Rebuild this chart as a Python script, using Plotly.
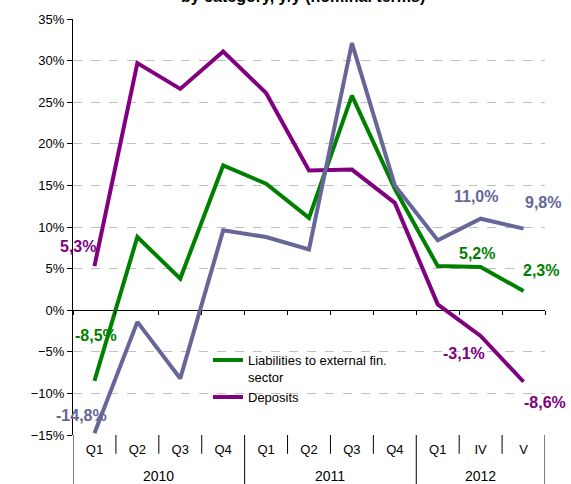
import plotly.graph_objects as go

years = ['2010'] * 4 + ['2011'] * 4 + ['2012'] * 3
periods = ['Q1', 'Q2', 'Q3', 'Q4', 'Q1', 'Q2', 'Q3', 'Q4', 'Q1', 'IV', 'V']
year_labels = ['2010', '2011', '2012']
cats = [y + ' ' + p for y, p in zip(years, periods)]

liabilities = [-8.5, 8.8, 3.8, 17.4, 15.2, 11.1, 25.8, 14.6, 5.3, 5.2, 2.3]
deposits = [5.3, 29.7, 26.6, 31.1, 26.1, 16.8, 16.9, 12.9, 0.7, -3.1, -8.6]
other = [-14.8, -1.4, -8.2, 9.6, 8.8, 7.3, 32.1, 15.0, 8.4, 11.0, 9.8]

GREEN = '#008000'
PURPLE = '#800080'
BLUE = '#666699'
FONT = 'Arial, Liberation Sans, sans-serif'

fig = go.Figure()
fig.add_trace(go.Scatter(x=cats, y=liabilities, mode='lines',
                         name='Liabilities to external fin.<br>sector',
                         line=dict(color=GREEN, width=4)))
fig.add_trace(go.Scatter(x=cats, y=deposits, mode='lines',
                         name='Deposits', line=dict(color=PURPLE, width=4)))
fig.add_trace(go.Scatter(x=cats, y=other, mode='lines',
                         showlegend=False, line=dict(color=BLUE, width=4)))
# helper trace binding the axis that crosses at 0%
fig.add_trace(go.Scatter(x=cats, y=other, xaxis='x2', mode='lines',
                         opacity=0, showlegend=False, hoverinfo='skip'))

labels = [
    (-0.38, 7.6, '5,3%', PURPLE),
    (0.04, -3.0, '-8,5%', GREEN),
    (-0.31, -12.6, '-14,8%', BLUE),
    (8.89, 13.7, '11,0%', BLUE),
    (10.45, 12.9, '9,8%', BLUE),
    (8.92, 6.85, '5,2%', GREEN),
    (10.4, 4.8, '2,3%', GREEN),
    (8.61, -5.2, '-3,1%', PURPLE),
    (10.5, -11.05, '-8,6%', PURPLE),
]
for lx, ly, txt, col in labels:
    fig.add_annotation(x=lx, y=ly, xref='x', yref='y', text='<b>' + txt + '</b>',
                       showarrow=False, font=dict(family=FONT, size=16, color=col))

# partially visible chart title at the very top
fig.add_annotation(x=0.487, y=1.029, xref='paper', yref='paper', xanchor='center',
                   yanchor='bottom', showarrow=False,
                   text='<b>by category, y/y (nominal terms)</b>',
                   font=dict(family=FONT, size=16, color='black'))

# year group labels
group_starts = [i for i in range(len(years)) if i == 0 or years[i] != years[i - 1]]
group_ends = group_starts[1:] + [len(years)]
for yl, s, e in zip(year_labels, group_starts, group_ends):
    fig.add_annotation(x=(s + e - 1) / 2, y=-0.098, xref='x', yref='paper',
                       text=yl, showarrow=False, yanchor='middle',
                       font=dict(family=FONT, size=14, color='black'))

# category separators below the plot
for i in range(len(cats) + 1):
    full = i in group_starts or i == len(cats)
    fig.add_shape(type='line', xref='x', yref='paper', x0=i - 0.5, x1=i - 0.5,
                  y0=0, y1=-0.125 if full else -0.045,
                  line=dict(color='black', width=1))

fig.update_layout(
    width=571, height=484,
    margin=dict(l=73, r=26, t=19, b=49, autoexpand=False),
    paper_bgcolor='white', plot_bgcolor='white',
    font=dict(family=FONT, size=13, color='black'),
    showlegend=True,
    legend=dict(x=0.286, y=0.216, xanchor='left', yanchor='top',
                bgcolor='rgba(0,0,0,0)', font=dict(family=FONT, size=13, color='black'),
                valign='top', tracegroupgap=0),
    xaxis=dict(type='category', showgrid=False, showline=False, zeroline=False,
               ticks='', tickvals=cats, ticktext=periods, ticklabelstandoff=5,
               tickfont=dict(family=FONT, size=13, color='black'),
               range=[-0.5, 10.5], automargin=False),
    xaxis2=dict(type='category', overlaying='x', anchor='free', position=0.3,
                side='bottom', showgrid=False, showline=False, zeroline=False,
                ticks='outside', ticklen=4, tickcolor='black', tickwidth=1,
                tickson='boundaries', showticklabels=False, range=[-0.5, 10.5],
                automargin=False),
    yaxis=dict(range=[-15, 35], dtick=5, ticksuffix='%', showline=True,
               linecolor='black', linewidth=1, ticks='outside', ticklen=5,
               tickcolor='black', showgrid=True, gridcolor='#c0c0c0',
               griddash='dash', gridwidth=1, zeroline=True, zerolinecolor='black',
               zerolinewidth=1, automargin=False,
               tickfont=dict(family=FONT, size=13, color='black')),
)

fig.write_html('out.html', config={'displayModeBar': False},
               post_script="document.body.style.margin='0';document.body.style.padding='0';")
